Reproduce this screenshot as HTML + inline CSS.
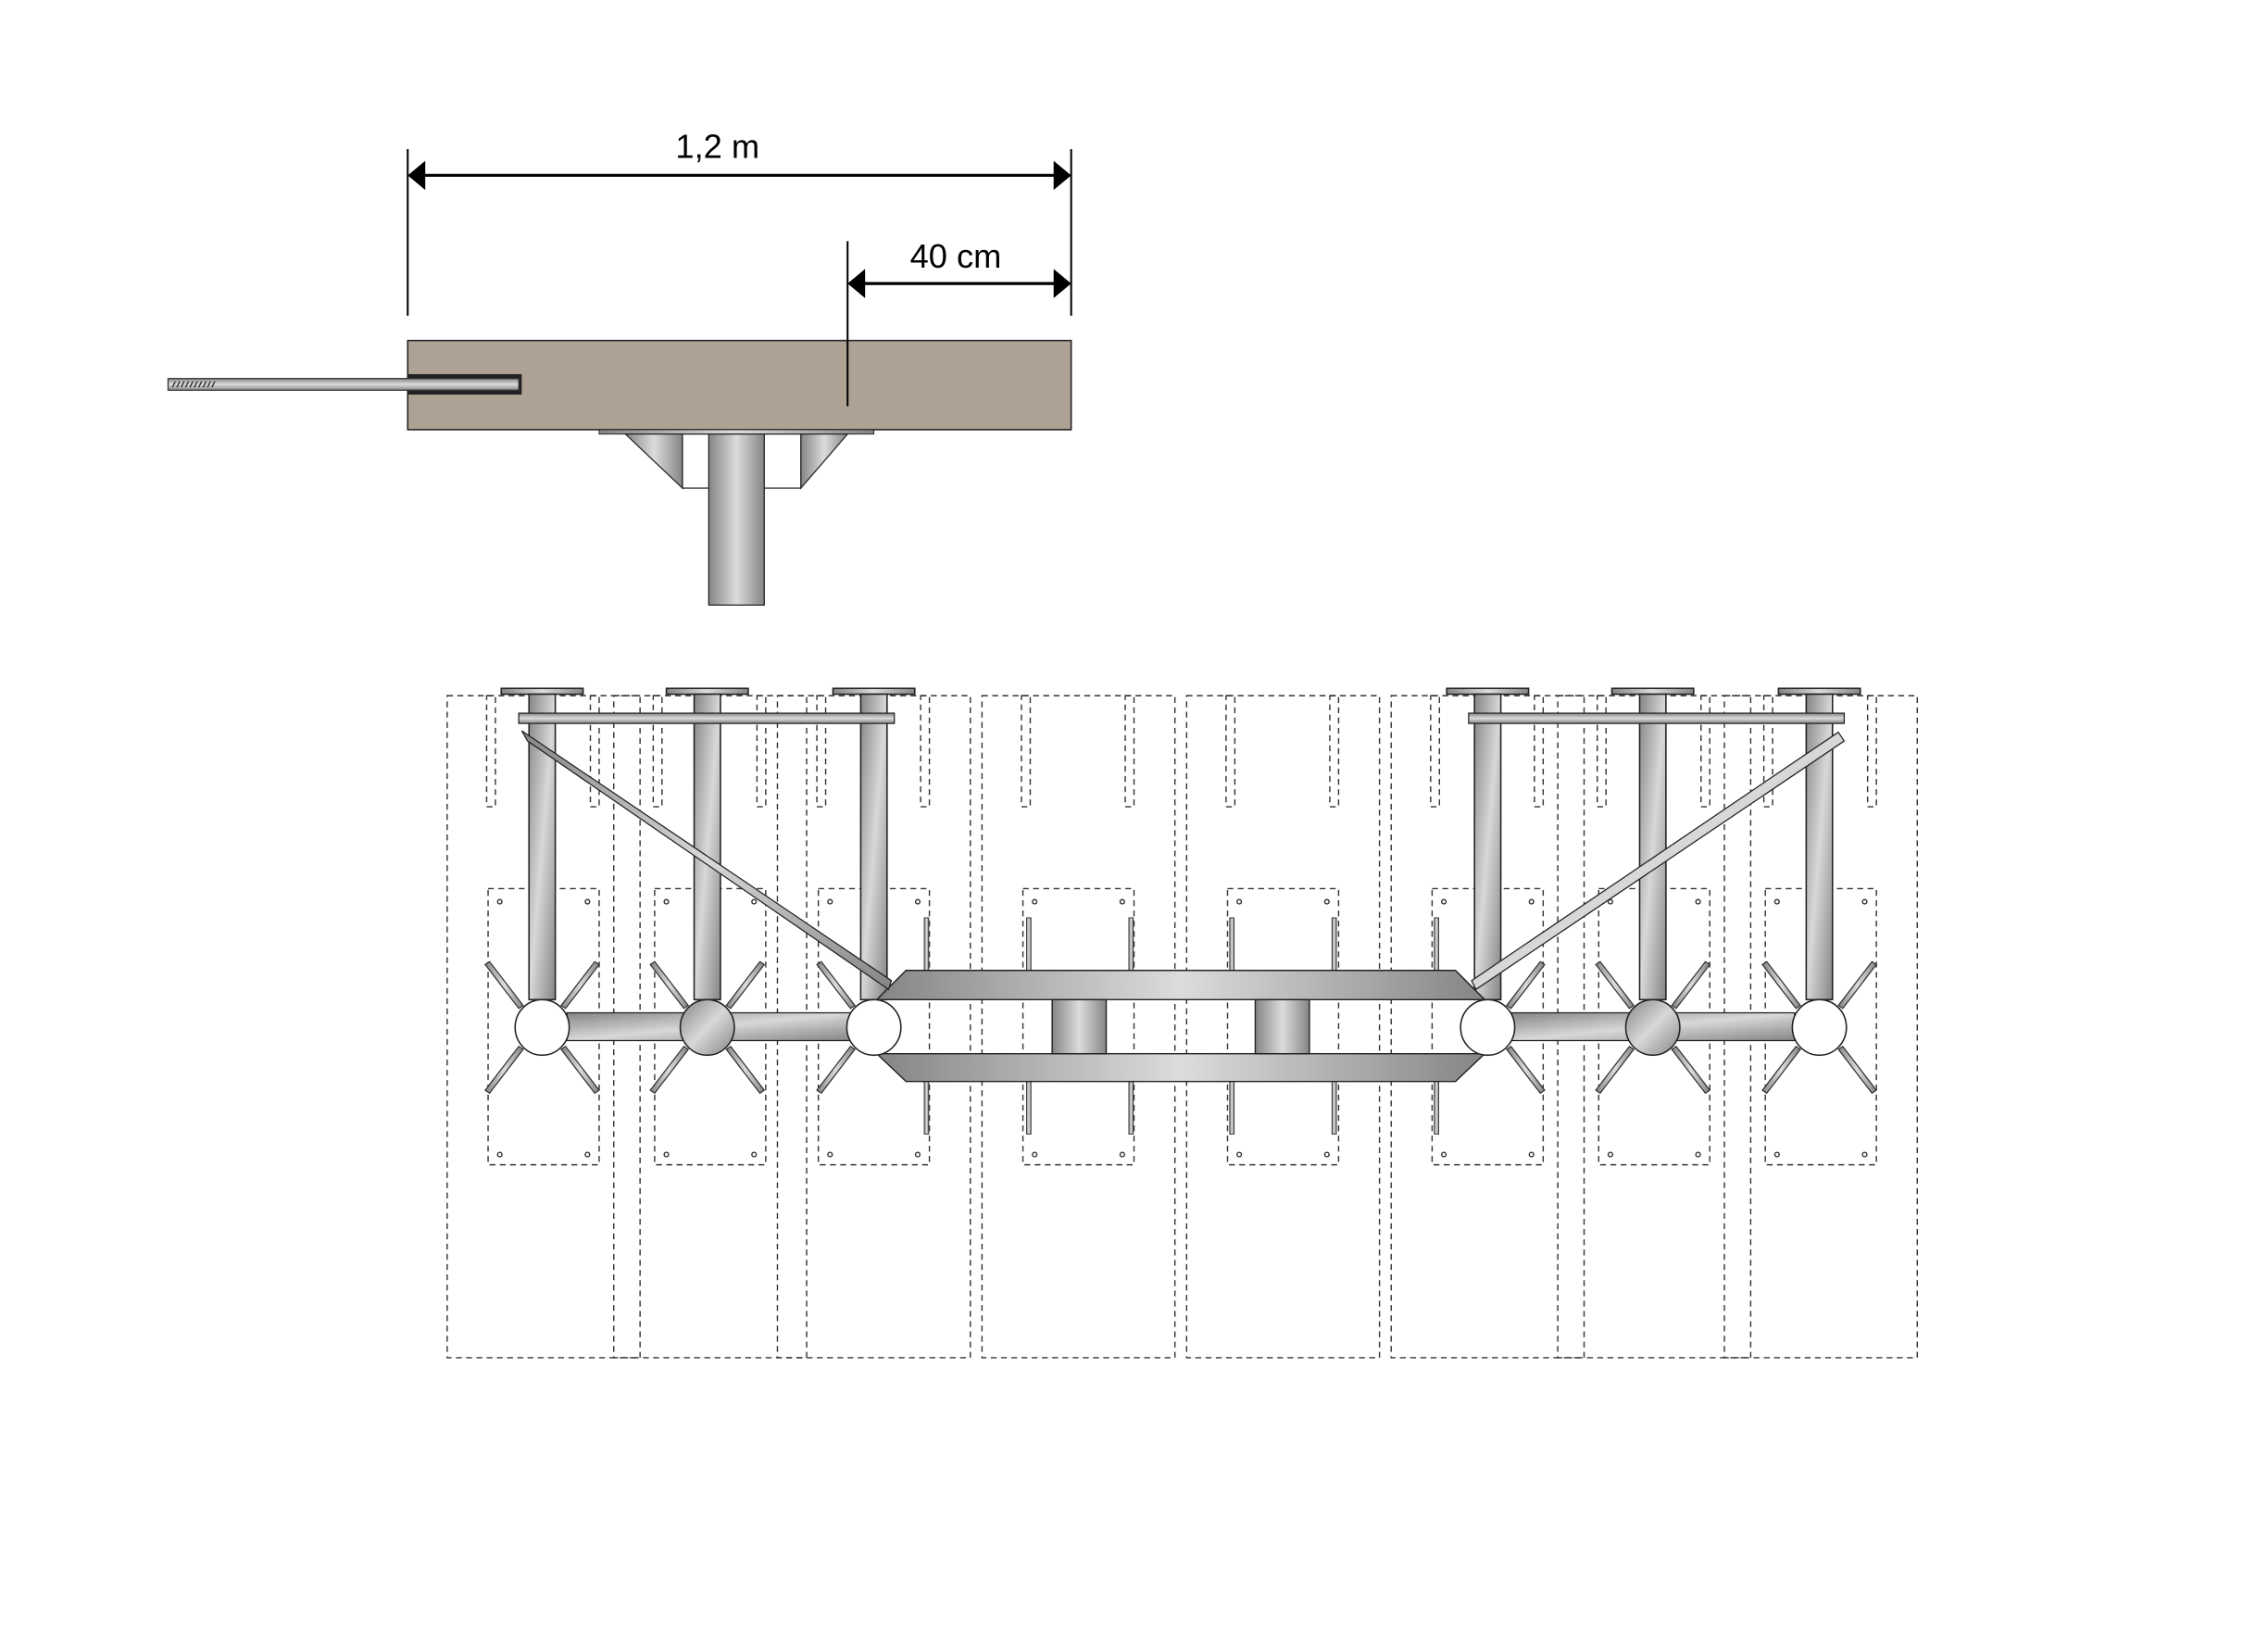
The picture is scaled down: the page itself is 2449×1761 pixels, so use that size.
<!DOCTYPE html>
<html><head><meta charset="utf-8"><style>html,body{margin:0;padding:0;background:#fff}svg{display:block}</style></head>
<body>
<svg width="2449" height="1761" viewBox="0 0 1552 1116" preserveAspectRatio="none" xmlns="http://www.w3.org/2000/svg">
<defs>
<linearGradient id="gh" x1="0" y1="0" x2="1" y2="0"><stop offset="0" stop-color="#858585"/><stop offset="0.5" stop-color="#dcdcdc"/><stop offset="1" stop-color="#858585"/></linearGradient>
<linearGradient id="gv" x1="0" y1="0" x2="0" y2="1"><stop offset="0" stop-color="#858585"/><stop offset="0.5" stop-color="#dcdcdc"/><stop offset="1" stop-color="#858585"/></linearGradient>
<linearGradient id="gd" x1="0" y1="0" x2="1" y2="1"><stop offset="0" stop-color="#858585"/><stop offset="0.5" stop-color="#d8d8d8"/><stop offset="1" stop-color="#858585"/></linearGradient>
<g id="box" fill="none" stroke="#333" stroke-width="0.9" stroke-dasharray="4,3">
<rect x="0" y="476" width="132" height="453"/>
<rect x="27" y="476" width="6" height="76"/>
<rect x="98" y="476" width="6" height="76"/>
<rect x="28" y="608" width="76" height="189"/>
<circle cx="36" cy="617" r="1.5" stroke-dasharray="none"/><circle cx="96" cy="617" r="1.5" stroke-dasharray="none"/>
<circle cx="36" cy="790" r="1.5" stroke-dasharray="none"/><circle cx="96" cy="790" r="1.5" stroke-dasharray="none"/>
</g>
<g id="pipe" stroke="#222" stroke-width="1">
<rect x="-28" y="471" width="56" height="4" fill="url(#gh)"/>
<rect x="-9" y="475" width="18" height="209" fill="url(#gd)"/>
</g>
<g id="spL" stroke="#333" stroke-width="0.8" fill="url(#gh)">
<polygon points="-13,-15 -36,-45 -39,-43 -16,-13"/>
<polygon points="-13,15 -36,45 -39,43 -16,13"/>
</g>
<g id="spR"><use href="#spL" transform="scale(-1,1)"/></g>
<rect id="tine" x="-1.5" y="0" width="3" height="36" fill="url(#gh)" stroke="#333" stroke-width="0.6"/>
</defs>

<g stroke="#000" stroke-width="1.3">
<line x1="279" y1="102" x2="279" y2="216"/>
<line x1="733" y1="102" x2="733" y2="216"/>
<line x1="580" y1="165" x2="580" y2="278"/>
<line x1="285" y1="120" x2="727" y2="120" stroke-width="2"/>
<line x1="586" y1="194" x2="727" y2="194" stroke-width="2"/>
</g>
<g fill="#000">
<polygon points="279,120 291,110 291,130"/><polygon points="733,120 721,110 721,130"/>
<polygon points="580,194 592,184 592,204"/><polygon points="733,194 721,184 721,204"/>
</g>
<text x="491" y="108" font-family="Liberation Sans, sans-serif" font-size="23" text-anchor="middle">1,2 m</text>
<text x="654" y="183" font-family="Liberation Sans, sans-serif" font-size="23" text-anchor="middle">40 cm</text>

<rect x="279" y="233" width="454" height="61" fill="#ada293" stroke="#222" stroke-width="1"/>
<line x1="580" y1="233" x2="580" y2="278" stroke="#000" stroke-width="1.3"/>
<rect x="279" y="256" width="78" height="14" fill="#222"/>
<rect x="115" y="259" width="240" height="8" fill="url(#gv)" stroke="#333" stroke-width="0.8"/>
<g stroke="#222" stroke-width="0.8"><line x1="118" y1="265" x2="120" y2="261"/><line x1="121" y1="265" x2="123" y2="261"/><line x1="124" y1="265" x2="126" y2="261"/><line x1="127" y1="265" x2="129" y2="261"/><line x1="130" y1="265" x2="132" y2="261"/><line x1="133" y1="265" x2="135" y2="261"/><line x1="136" y1="265" x2="138" y2="261"/><line x1="139" y1="265" x2="141" y2="261"/><line x1="142" y1="265" x2="144" y2="261"/><line x1="145" y1="265" x2="147" y2="261"/></g>
<rect x="410" y="294" width="188" height="3" fill="url(#gh)" stroke="#222" stroke-width="0.6"/>
<g stroke="#222" stroke-width="0.8">
<polygon points="428,297 467,297 467,334" fill="url(#gh)"/>
<polygon points="548,297 580,297 548,334" fill="url(#gh)"/>
<rect x="467" y="297" width="81" height="37" fill="#fff"/>
<rect x="485" y="297" width="38" height="117" fill="url(#gh)"/>
</g>

<use href="#box" x="306"/><use href="#box" x="420"/><use href="#box" x="532"/><use href="#box" x="672"/>
<use href="#box" x="812"/><use href="#box" x="952"/><use href="#box" x="1066"/><use href="#box" x="1180"/>

<use href="#pipe" x="371"/><use href="#pipe" x="484"/><use href="#pipe" x="598"/>
<use href="#pipe" x="1018"/><use href="#pipe" x="1131"/><use href="#pipe" x="1245"/>

<rect x="355" y="488" width="257" height="7" fill="url(#gv)" stroke="#222" stroke-width="0.8"/>
<rect x="1005" y="488" width="257" height="7" fill="url(#gv)" stroke="#222" stroke-width="0.8"/>

<g><use href="#tine" x="634" y="628"/><use href="#tine" x="704" y="628"/><use href="#tine" x="774" y="628"/><use href="#tine" x="843" y="628"/><use href="#tine" x="913" y="628"/><use href="#tine" x="983" y="628"/>
<use href="#tine" x="634" y="740"/><use href="#tine" x="704" y="740"/><use href="#tine" x="774" y="740"/><use href="#tine" x="843" y="740"/><use href="#tine" x="913" y="740"/><use href="#tine" x="983" y="740"/></g>

<use href="#spL" transform="translate(371,703)"/><use href="#spR" transform="translate(371,703)"/>
<use href="#spL" transform="translate(484,703)"/><use href="#spR" transform="translate(484,703)"/>
<use href="#spL" transform="translate(598,703)"/>
<use href="#spR" transform="translate(1018,703)"/>
<use href="#spL" transform="translate(1131,703)"/><use href="#spR" transform="translate(1131,703)"/>
<use href="#spL" transform="translate(1245,703)"/><use href="#spR" transform="translate(1245,703)"/>

<rect x="388" y="693" width="194" height="19" fill="url(#gd)" stroke="#222" stroke-width="0.8"/>
<rect x="1034" y="693" width="194" height="19" fill="url(#gd)" stroke="#222" stroke-width="0.8"/>

<g stroke="#222" stroke-width="0.9">
<polygon points="620,664 996,664 1016,684 600,684" fill="url(#gh)"/>
<polygon points="600,721 1016,721 996,740 620,740" fill="url(#gh)"/>
<rect x="720" y="684" width="37" height="37" fill="url(#gh)"/>
<rect x="859" y="684" width="37" height="37" fill="url(#gh)"/>
</g>

<g stroke="#222" stroke-width="0.8" fill="url(#gd)">
<polygon points="357,500 361,507 608,677 610,671"/>
<polygon points="1258,501 1262,507 1010,677 1007,671"/>
</g>

<g fill="#fff" stroke="#222" stroke-width="1">
<ellipse cx="371" cy="703" rx="18.5" ry="19"/>
<ellipse cx="484" cy="703" rx="18.5" ry="19" fill="url(#gd)"/>
<ellipse cx="598" cy="703" rx="18.5" ry="19"/>
<ellipse cx="1018" cy="703" rx="18.5" ry="19"/>
<ellipse cx="1131" cy="703" rx="18.5" ry="19" fill="url(#gd)"/>
<ellipse cx="1245" cy="703" rx="18.5" ry="19"/>
</g>
</svg>
</body></html>
